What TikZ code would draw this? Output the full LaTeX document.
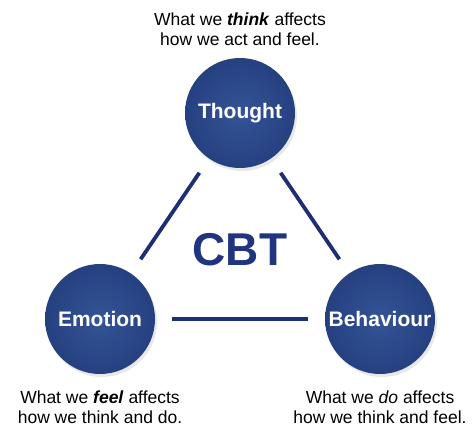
\documentclass[tikz,border=0pt]{standalone}
\usepackage{fontspec}
\setmainfont{Liberation Sans}
\usetikzlibrary{positioning,shadows}
\definecolor{ballLight}{RGB}{52,84,150}
\definecolor{ballMid}{RGB}{36,62,125}
\definecolor{ballDark}{RGB}{20,36,92}
\definecolor{linkCol}{RGB}{30,46,115}
\definecolor{cbtCol}{RGB}{32,52,128}
\pgfdeclareradialshading{ballshade}{\pgfpoint{0bp}{0bp}}{%
  color(0bp)=(ballLight); color(28bp)=(ballMid); color(46bp)=(ballDark); color(50bp)=(ballDark)}
\tikzset{
  ball/.style={circle,minimum size=110pt,inner sep=0pt,shading=ballshade,
               text=white,font=\fontsize{21}{24}\selectfont\bfseries,
               drop shadow={opacity=0.18,shadow xshift=2pt,shadow yshift=-3pt}},
  link/.style={line width=3.8pt,draw=linkCol,shorten >=17pt,shorten <=17pt},
  caption/.style={align=center,font=\fontsize{17.5}{20.5}\selectfont,text=black},
}

\begin{document}
\begin{tikzpicture}[x=1pt,y=1pt]
  \useasboundingbox (0,0) rectangle (474,429);
  \node[ball] (thought) at (240,316) {Thought};
  \node[ball] (emotion) at (100,110) {Emotion};
  \node[ball] (behav) at (380,110) {Behaviour};
  \draw[link] (thought) -- (emotion);
  \draw[link] (thought) -- (behav);
  \draw[link] (emotion) -- (behav);
  \node[font=\fontsize{46}{50}\selectfont\bfseries,text=cbtCol] (cbt) at (240,179) {CBT};
  % captions
  \node[caption] (capT) at (240,400) {What we \textbf{\textit{think}} affects\\how we act and feel.};
  \node[caption] (capE) at (100,22) {What we \textbf{\textit{feel}} affects\\how we think and do.};
  \node[caption] (capB) at (380,22) {What we \textit{do} affects\\how we think and feel.};
\end{tikzpicture}
\end{document}
